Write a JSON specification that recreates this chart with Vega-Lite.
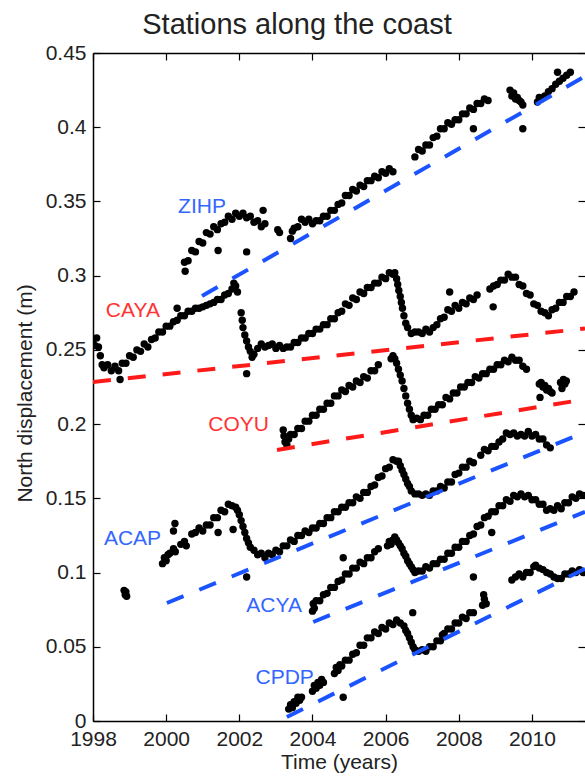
{
  "$schema": "https://vega.github.io/schema/vega-lite/v6.json",
  "autosize": {"type": "none"},
  "padding": {"left": 93, "top": 53, "right": 0, "bottom": 56},
  "width": 492,
  "height": 668,
  "background": "white",
  "title": {"text": "Stations along the coast", "font": "Liberation Sans", "fontSize": 29, "fontWeight": "normal", "color": "#222222", "anchor": "middle", "dx": -42, "dy": 39, "offset": 18, "baseline": "alphabetic"},
  "config": {
    "view": {"stroke": null},
    "axis": {"labelFont": "Liberation Sans", "labelFontSize": 21, "labelColor": "#222222", "titleFont": "Liberation Sans", "titleFontSize": 21, "titleFontWeight": "normal", "titleColor": "#222222", "domainColor": "#000000", "domainWidth": 1.5, "tickColor": "#000000", "tickWidth": 1.2, "grid": false}
  },
  "datasets": {
    "pts": [
      {"s":"ZIHP","t":2000.5,"v":0.309},{"s":"ZIHP","t":2000.52,"v":0.303},{"s":"ZIHP","t":2000.6,"v":0.310},{"s":"ZIHP","t":2000.7,"v":0.317},{"s":"ZIHP","t":2000.8,"v":0.316},{"s":"ZIHP","t":2000.9,"v":0.323},{"s":"ZIHP","t":2001.0,"v":0.322},{"s":"ZIHP","t":2001.1,"v":0.329},{"s":"ZIHP","t":2001.2,"v":0.328},{"s":"ZIHP","t":2001.3,"v":0.333},{"s":"ZIHP","t":2001.4,"v":0.331},{"s":"ZIHP","t":2001.5,"v":0.335},{"s":"ZIHP","t":2001.6,"v":0.336},{"s":"ZIHP","t":2001.7,"v":0.340},{"s":"ZIHP","t":2001.8,"v":0.338},{"s":"ZIHP","t":2001.9,"v":0.342},{"s":"ZIHP","t":2002.0,"v":0.340},{"s":"ZIHP","t":2002.1,"v":0.342},{"s":"ZIHP","t":2002.2,"v":0.339},{"s":"ZIHP","t":2002.3,"v":0.340},{"s":"ZIHP","t":2002.4,"v":0.336},{"s":"ZIHP","t":2002.5,"v":0.337},{"s":"ZIHP","t":2002.6,"v":0.333},{"s":"ZIHP","t":2002.7,"v":0.335},{"s":"ZIHP","t":2001.42,"v":0.317},{"s":"ZIHP","t":2002.2,"v":0.316},{"s":"ZIHP","t":2002.65,"v":0.344},
      {"s":"ZIHP","t":2003.05,"v":0.331},{"s":"ZIHP","t":2003.1,"v":0.329},
      {"s":"ZIHP","t":2003.4,"v":0.325},{"s":"ZIHP","t":2003.45,"v":0.330},{"s":"ZIHP","t":2003.5,"v":0.332},{"s":"ZIHP","t":2003.6,"v":0.333},{"s":"ZIHP","t":2003.7,"v":0.338},{"s":"ZIHP","t":2003.8,"v":0.336},{"s":"ZIHP","t":2003.9,"v":0.338},{"s":"ZIHP","t":2004.0,"v":0.335},{"s":"ZIHP","t":2004.1,"v":0.337},{"s":"ZIHP","t":2004.2,"v":0.337},{"s":"ZIHP","t":2004.3,"v":0.340},{"s":"ZIHP","t":2004.4,"v":0.340},{"s":"ZIHP","t":2004.5,"v":0.344},{"s":"ZIHP","t":2004.6,"v":0.344},{"s":"ZIHP","t":2004.7,"v":0.348},{"s":"ZIHP","t":2004.8,"v":0.349},{"s":"ZIHP","t":2004.9,"v":0.354},{"s":"ZIHP","t":2005.0,"v":0.354},{"s":"ZIHP","t":2005.1,"v":0.358},{"s":"ZIHP","t":2005.2,"v":0.357},{"s":"ZIHP","t":2005.3,"v":0.361},{"s":"ZIHP","t":2005.4,"v":0.360},{"s":"ZIHP","t":2005.5,"v":0.364},{"s":"ZIHP","t":2005.6,"v":0.364},{"s":"ZIHP","t":2005.7,"v":0.367},{"s":"ZIHP","t":2005.8,"v":0.366},{"s":"ZIHP","t":2005.9,"v":0.370},{"s":"ZIHP","t":2006.0,"v":0.369},{"s":"ZIHP","t":2006.1,"v":0.372},{"s":"ZIHP","t":2006.2,"v":0.370},
      {"s":"ZIHP","t":2006.8,"v":0.380},{"s":"ZIHP","t":2006.9,"v":0.385},{"s":"ZIHP","t":2007.0,"v":0.384},{"s":"ZIHP","t":2007.1,"v":0.388},{"s":"ZIHP","t":2007.2,"v":0.388},{"s":"ZIHP","t":2007.3,"v":0.393},{"s":"ZIHP","t":2007.4,"v":0.394},{"s":"ZIHP","t":2007.5,"v":0.399},{"s":"ZIHP","t":2007.6,"v":0.399},{"s":"ZIHP","t":2007.7,"v":0.403},{"s":"ZIHP","t":2007.8,"v":0.402},{"s":"ZIHP","t":2007.9,"v":0.405},{"s":"ZIHP","t":2008.0,"v":0.405},{"s":"ZIHP","t":2008.1,"v":0.409},{"s":"ZIHP","t":2008.2,"v":0.409},{"s":"ZIHP","t":2008.3,"v":0.413},{"s":"ZIHP","t":2008.4,"v":0.412},{"s":"ZIHP","t":2008.5,"v":0.416},{"s":"ZIHP","t":2008.6,"v":0.416},{"s":"ZIHP","t":2008.7,"v":0.419},{"s":"ZIHP","t":2008.8,"v":0.418},{"s":"ZIHP","t":2008.4,"v":0.399},
      {"s":"ZIHP","t":2009.4,"v":0.425},{"s":"ZIHP","t":2009.45,"v":0.421},{"s":"ZIHP","t":2009.5,"v":0.423},{"s":"ZIHP","t":2009.55,"v":0.419},{"s":"ZIHP","t":2009.6,"v":0.420},{"s":"ZIHP","t":2009.65,"v":0.418},{"s":"ZIHP","t":2009.7,"v":0.417},{"s":"ZIHP","t":2009.75,"v":0.415},{"s":"ZIHP","t":2009.75,"v":0.399},
      {"s":"ZIHP","t":2010.15,"v":0.417},{"s":"ZIHP","t":2010.2,"v":0.420},{"s":"ZIHP","t":2010.25,"v":0.419},{"s":"ZIHP","t":2010.35,"v":0.421},{"s":"ZIHP","t":2010.45,"v":0.424},{"s":"ZIHP","t":2010.55,"v":0.426},{"s":"ZIHP","t":2010.65,"v":0.429},{"s":"ZIHP","t":2010.7,"v":0.437},{"s":"ZIHP","t":2010.75,"v":0.431},{"s":"ZIHP","t":2010.85,"v":0.433},{"s":"ZIHP","t":2010.95,"v":0.435},{"s":"ZIHP","t":2011.05,"v":0.437},

      {"s":"CAYA","t":1998.0,"v":0.257},{"s":"CAYA","t":1998.05,"v":0.253},{"s":"CAYA","t":1998.1,"v":0.258},{"s":"CAYA","t":1998.15,"v":0.252},{"s":"CAYA","t":1998.2,"v":0.246},{"s":"CAYA","t":1998.25,"v":0.240},{"s":"CAYA","t":1998.3,"v":0.238},{"s":"CAYA","t":1998.4,"v":0.240},{"s":"CAYA","t":1998.5,"v":0.236},{"s":"CAYA","t":1998.6,"v":0.239},{"s":"CAYA","t":1998.7,"v":0.236},{"s":"CAYA","t":1998.74,"v":0.230},{"s":"CAYA","t":1998.8,"v":0.241},{"s":"CAYA","t":1998.9,"v":0.241},{"s":"CAYA","t":1999.0,"v":0.246},{"s":"CAYA","t":1999.1,"v":0.245},{"s":"CAYA","t":1999.2,"v":0.250},{"s":"CAYA","t":1999.3,"v":0.249},{"s":"CAYA","t":1999.4,"v":0.254},{"s":"CAYA","t":1999.5,"v":0.252},{"s":"CAYA","t":1999.6,"v":0.257},{"s":"CAYA","t":1999.7,"v":0.258},{"s":"CAYA","t":1999.8,"v":0.262},{"s":"CAYA","t":1999.9,"v":0.262},{"s":"CAYA","t":2000.0,"v":0.266},{"s":"CAYA","t":2000.1,"v":0.266},{"s":"CAYA","t":2000.2,"v":0.269},{"s":"CAYA","t":2000.3,"v":0.270},{"s":"CAYA","t":2000.3,"v":0.278},{"s":"CAYA","t":2000.4,"v":0.273},{"s":"CAYA","t":2000.5,"v":0.273},{"s":"CAYA","t":2000.6,"v":0.276},{"s":"CAYA","t":2000.7,"v":0.276},{"s":"CAYA","t":2000.8,"v":0.278},{"s":"CAYA","t":2000.9,"v":0.278},{"s":"CAYA","t":2001.0,"v":0.279},{"s":"CAYA","t":2001.1,"v":0.280},{"s":"CAYA","t":2001.2,"v":0.281},{"s":"CAYA","t":2001.3,"v":0.282},{"s":"CAYA","t":2001.4,"v":0.284},{"s":"CAYA","t":2001.5,"v":0.284},{"s":"CAYA","t":2001.6,"v":0.287},{"s":"CAYA","t":2001.7,"v":0.288},
      {"s":"CAYA","t":2001.8,"v":0.291},{"s":"CAYA","t":2001.85,"v":0.295},{"s":"CAYA","t":2001.9,"v":0.293},{"s":"CAYA","t":2001.95,"v":0.289},{"s":"CAYA","t":2002.05,"v":0.275},{"s":"CAYA","t":2002.08,"v":0.270},{"s":"CAYA","t":2002.1,"v":0.265},{"s":"CAYA","t":2002.15,"v":0.260},{"s":"CAYA","t":2002.2,"v":0.256},{"s":"CAYA","t":2002.2,"v":0.234},{"s":"CAYA","t":2002.25,"v":0.252},{"s":"CAYA","t":2002.3,"v":0.249},{"s":"CAYA","t":2002.35,"v":0.245},{"s":"CAYA","t":2002.4,"v":0.247},{"s":"CAYA","t":2002.5,"v":0.251},{"s":"CAYA","t":2002.6,"v":0.254},{"s":"CAYA","t":2002.7,"v":0.252},{"s":"CAYA","t":2002.8,"v":0.253},{"s":"CAYA","t":2002.9,"v":0.254},{"s":"CAYA","t":2003.0,"v":0.251},{"s":"CAYA","t":2003.1,"v":0.253},{"s":"CAYA","t":2003.2,"v":0.251},{"s":"CAYA","t":2003.3,"v":0.252},{"s":"CAYA","t":2003.4,"v":0.252},{"s":"CAYA","t":2003.5,"v":0.255},{"s":"CAYA","t":2003.6,"v":0.255},{"s":"CAYA","t":2003.7,"v":0.258},{"s":"CAYA","t":2003.8,"v":0.258},{"s":"CAYA","t":2003.9,"v":0.261},{"s":"CAYA","t":2004.0,"v":0.261},{"s":"CAYA","t":2004.1,"v":0.264},{"s":"CAYA","t":2004.2,"v":0.264},{"s":"CAYA","t":2004.3,"v":0.267},{"s":"CAYA","t":2004.4,"v":0.267},{"s":"CAYA","t":2004.5,"v":0.271},{"s":"CAYA","t":2004.6,"v":0.271},{"s":"CAYA","t":2004.7,"v":0.275},{"s":"CAYA","t":2004.8,"v":0.276},{"s":"CAYA","t":2004.9,"v":0.281},{"s":"CAYA","t":2005.0,"v":0.280},{"s":"CAYA","t":2005.1,"v":0.285},{"s":"CAYA","t":2005.2,"v":0.284},{"s":"CAYA","t":2005.3,"v":0.289},{"s":"CAYA","t":2005.4,"v":0.288},{"s":"CAYA","t":2005.5,"v":0.292},{"s":"CAYA","t":2005.6,"v":0.292},{"s":"CAYA","t":2005.7,"v":0.295},{"s":"CAYA","t":2005.8,"v":0.295},{"s":"CAYA","t":2005.9,"v":0.299},{"s":"CAYA","t":2006.0,"v":0.298},{"s":"CAYA","t":2006.1,"v":0.302},{"s":"CAYA","t":2006.2,"v":0.301},{"s":"CAYA","t":2006.25,"v":0.302},{"s":"CAYA","t":2006.3,"v":0.298},{"s":"CAYA","t":2006.33,"v":0.294},{"s":"CAYA","t":2006.36,"v":0.290},{"s":"CAYA","t":2006.4,"v":0.286},{"s":"CAYA","t":2006.43,"v":0.282},{"s":"CAYA","t":2006.46,"v":0.278},{"s":"CAYA","t":2006.5,"v":0.273},{"s":"CAYA","t":2006.55,"v":0.268},{"s":"CAYA","t":2006.6,"v":0.265},{"s":"CAYA","t":2006.7,"v":0.261},{"s":"CAYA","t":2006.8,"v":0.262},{"s":"CAYA","t":2006.9,"v":0.262},{"s":"CAYA","t":2007.0,"v":0.261},{"s":"CAYA","t":2007.1,"v":0.264},{"s":"CAYA","t":2007.2,"v":0.262},{"s":"CAYA","t":2007.3,"v":0.265},{"s":"CAYA","t":2007.4,"v":0.267},{"s":"CAYA","t":2007.5,"v":0.271},{"s":"CAYA","t":2007.6,"v":0.272},{"s":"CAYA","t":2007.7,"v":0.277},{"s":"CAYA","t":2007.75,"v":0.289},{"s":"CAYA","t":2007.8,"v":0.276},{"s":"CAYA","t":2007.9,"v":0.280},{"s":"CAYA","t":2008.0,"v":0.278},{"s":"CAYA","t":2008.1,"v":0.282},{"s":"CAYA","t":2008.2,"v":0.281},{"s":"CAYA","t":2008.3,"v":0.285},{"s":"CAYA","t":2008.4,"v":0.284},{"s":"CAYA","t":2008.5,"v":0.287},
      {"s":"CAYA","t":2008.85,"v":0.291},{"s":"CAYA","t":2008.95,"v":0.293},{"s":"CAYA","t":2008.94,"v":0.279},{"s":"CAYA","t":2009.05,"v":0.294},{"s":"CAYA","t":2009.15,"v":0.297},{"s":"CAYA","t":2009.25,"v":0.297},{"s":"CAYA","t":2009.35,"v":0.301},{"s":"CAYA","t":2009.45,"v":0.299},{"s":"CAYA","t":2009.55,"v":0.299},{"s":"CAYA","t":2009.65,"v":0.294},{"s":"CAYA","t":2009.75,"v":0.293},{"s":"CAYA","t":2009.85,"v":0.288},{"s":"CAYA","t":2009.95,"v":0.287},{"s":"CAYA","t":2010.05,"v":0.281},{"s":"CAYA","t":2010.15,"v":0.280},{"s":"CAYA","t":2010.25,"v":0.276},{"s":"CAYA","t":2010.35,"v":0.275},{"s":"CAYA","t":2010.45,"v":0.273},{"s":"CAYA","t":2010.55,"v":0.277},{"s":"CAYA","t":2010.65,"v":0.278},{"s":"CAYA","t":2010.75,"v":0.282},{"s":"CAYA","t":2010.85,"v":0.282},{"s":"CAYA","t":2010.95,"v":0.286},{"s":"CAYA","t":2011.05,"v":0.286},{"s":"CAYA","t":2011.15,"v":0.289},

      {"s":"COYU","t":2003.2,"v":0.196},{"s":"COYU","t":2003.22,"v":0.192},{"s":"COYU","t":2003.25,"v":0.188},{"s":"COYU","t":2003.3,"v":0.186},{"s":"COYU","t":2003.35,"v":0.190},{"s":"COYU","t":2003.4,"v":0.193},{"s":"COYU","t":2003.5,"v":0.193},{"s":"COYU","t":2003.6,"v":0.197},{"s":"COYU","t":2003.7,"v":0.197},{"s":"COYU","t":2003.8,"v":0.202},{"s":"COYU","t":2003.9,"v":0.202},{"s":"COYU","t":2004.0,"v":0.206},{"s":"COYU","t":2004.1,"v":0.206},{"s":"COYU","t":2004.2,"v":0.210},{"s":"COYU","t":2004.3,"v":0.210},{"s":"COYU","t":2004.4,"v":0.214},{"s":"COYU","t":2004.5,"v":0.214},{"s":"COYU","t":2004.6,"v":0.219},{"s":"COYU","t":2004.7,"v":0.219},{"s":"COYU","t":2004.8,"v":0.223},{"s":"COYU","t":2004.9,"v":0.222},{"s":"COYU","t":2005.0,"v":0.226},{"s":"COYU","t":2005.1,"v":0.225},{"s":"COYU","t":2005.2,"v":0.229},{"s":"COYU","t":2005.3,"v":0.228},{"s":"COYU","t":2005.4,"v":0.232},{"s":"COYU","t":2005.5,"v":0.231},{"s":"COYU","t":2005.6,"v":0.236},{"s":"COYU","t":2005.7,"v":0.236},{"s":"COYU","t":2005.8,"v":0.240},
      {"s":"COYU","t":2006.15,"v":0.244},{"s":"COYU","t":2006.2,"v":0.246},{"s":"COYU","t":2006.25,"v":0.244},{"s":"COYU","t":2006.3,"v":0.241},{"s":"COYU","t":2006.35,"v":0.237},{"s":"COYU","t":2006.4,"v":0.233},{"s":"COYU","t":2006.45,"v":0.229},{"s":"COYU","t":2006.5,"v":0.224},{"s":"COYU","t":2006.55,"v":0.219},{"s":"COYU","t":2006.6,"v":0.214},{"s":"COYU","t":2006.65,"v":0.210},{"s":"COYU","t":2006.7,"v":0.206},{"s":"COYU","t":2006.75,"v":0.203},{"s":"COYU","t":2006.85,"v":0.204},{"s":"COYU","t":2006.95,"v":0.203},{"s":"COYU","t":2007.05,"v":0.206},{"s":"COYU","t":2007.15,"v":0.206},{"s":"COYU","t":2007.25,"v":0.210},{"s":"COYU","t":2007.35,"v":0.210},{"s":"COYU","t":2007.45,"v":0.213},{"s":"COYU","t":2007.55,"v":0.213},{"s":"COYU","t":2007.65,"v":0.218},{"s":"COYU","t":2007.75,"v":0.217},{"s":"COYU","t":2007.85,"v":0.221},{"s":"COYU","t":2007.95,"v":0.221},{"s":"COYU","t":2008.05,"v":0.225},{"s":"COYU","t":2008.15,"v":0.225},{"s":"COYU","t":2008.25,"v":0.228},{"s":"COYU","t":2008.35,"v":0.228},{"s":"COYU","t":2008.45,"v":0.232},{"s":"COYU","t":2008.55,"v":0.231},{"s":"COYU","t":2008.65,"v":0.234},{"s":"COYU","t":2008.75,"v":0.234},{"s":"COYU","t":2008.85,"v":0.237},{"s":"COYU","t":2008.95,"v":0.237},{"s":"COYU","t":2009.05,"v":0.240},{"s":"COYU","t":2009.15,"v":0.240},{"s":"COYU","t":2009.25,"v":0.243},{"s":"COYU","t":2009.35,"v":0.242},{"s":"COYU","t":2009.45,"v":0.245},{"s":"COYU","t":2009.55,"v":0.243},{"s":"COYU","t":2009.65,"v":0.243},{"s":"COYU","t":2009.75,"v":0.239},{"s":"COYU","t":2009.85,"v":0.237},
      {"s":"COYU","t":2010.2,"v":0.227},{"s":"COYU","t":2010.22,"v":0.218},{"s":"COYU","t":2010.25,"v":0.228},{"s":"COYU","t":2010.3,"v":0.225},{"s":"COYU","t":2010.35,"v":0.226},{"s":"COYU","t":2010.4,"v":0.223},{"s":"COYU","t":2010.45,"v":0.224},{"s":"COYU","t":2010.5,"v":0.222},{"s":"COYU","t":2010.55,"v":0.221},{"s":"COYU","t":2010.78,"v":0.228},{"s":"COYU","t":2010.82,"v":0.224},{"s":"COYU","t":2010.86,"v":0.230},{"s":"COYU","t":2010.9,"v":0.227},{"s":"COYU","t":2010.94,"v":0.229},

      {"s":"ACAP","t":1998.85,"v":0.088},{"s":"ACAP","t":1998.88,"v":0.085},{"s":"ACAP","t":1998.9,"v":0.087},{"s":"ACAP","t":1998.92,"v":0.084},
      {"s":"ACAP","t":1999.9,"v":0.106},{"s":"ACAP","t":1999.95,"v":0.110},{"s":"ACAP","t":2000.0,"v":0.108},{"s":"ACAP","t":2000.05,"v":0.112},{"s":"ACAP","t":2000.1,"v":0.113},{"s":"ACAP","t":2000.2,"v":0.116},{"s":"ACAP","t":2000.2,"v":0.128},{"s":"ACAP","t":2000.24,"v":0.133},{"s":"ACAP","t":2000.25,"v":0.114},{"s":"ACAP","t":2000.4,"v":0.119},{"s":"ACAP","t":2000.5,"v":0.121},{"s":"ACAP","t":2000.55,"v":0.118},{"s":"ACAP","t":2000.7,"v":0.126},{"s":"ACAP","t":2000.8,"v":0.127},{"s":"ACAP","t":2000.9,"v":0.130},{"s":"ACAP","t":2001.0,"v":0.128},{"s":"ACAP","t":2001.1,"v":0.132},{"s":"ACAP","t":2001.2,"v":0.132},{"s":"ACAP","t":2001.3,"v":0.137},{"s":"ACAP","t":2001.4,"v":0.137},{"s":"ACAP","t":2001.42,"v":0.127},{"s":"ACAP","t":2001.5,"v":0.142},{"s":"ACAP","t":2001.6,"v":0.141},{"s":"ACAP","t":2001.7,"v":0.146},{"s":"ACAP","t":2001.8,"v":0.145},{"s":"ACAP","t":2001.83,"v":0.129},{"s":"ACAP","t":2001.9,"v":0.144},{"s":"ACAP","t":2001.95,"v":0.142},{"s":"ACAP","t":2002.0,"v":0.139},{"s":"ACAP","t":2002.05,"v":0.135},{"s":"ACAP","t":2002.1,"v":0.131},{"s":"ACAP","t":2002.15,"v":0.127},{"s":"ACAP","t":2002.2,"v":0.123},{"s":"ACAP","t":2002.2,"v":0.097},{"s":"ACAP","t":2002.25,"v":0.120},{"s":"ACAP","t":2002.3,"v":0.117},{"s":"ACAP","t":2002.4,"v":0.115},{"s":"ACAP","t":2002.5,"v":0.112},{"s":"ACAP","t":2002.6,"v":0.113},{"s":"ACAP","t":2002.7,"v":0.110},{"s":"ACAP","t":2002.8,"v":0.113},{"s":"ACAP","t":2002.9,"v":0.112},{"s":"ACAP","t":2003.0,"v":0.115},{"s":"ACAP","t":2003.1,"v":0.114},{"s":"ACAP","t":2003.2,"v":0.118},{"s":"ACAP","t":2003.3,"v":0.118},{"s":"ACAP","t":2003.4,"v":0.122},{"s":"ACAP","t":2003.5,"v":0.121},{"s":"ACAP","t":2003.6,"v":0.125},{"s":"ACAP","t":2003.7,"v":0.125},{"s":"ACAP","t":2003.8,"v":0.128},{"s":"ACAP","t":2003.9,"v":0.127},{"s":"ACAP","t":2004.0,"v":0.130},{"s":"ACAP","t":2004.1,"v":0.130},{"s":"ACAP","t":2004.2,"v":0.133},{"s":"ACAP","t":2004.3,"v":0.133},{"s":"ACAP","t":2004.4,"v":0.137},{"s":"ACAP","t":2004.5,"v":0.137},{"s":"ACAP","t":2004.6,"v":0.141},{"s":"ACAP","t":2004.7,"v":0.141},{"s":"ACAP","t":2004.8,"v":0.144},{"s":"ACAP","t":2004.9,"v":0.144},{"s":"ACAP","t":2005.0,"v":0.147},{"s":"ACAP","t":2005.1,"v":0.147},{"s":"ACAP","t":2005.2,"v":0.151},{"s":"ACAP","t":2005.3,"v":0.150},{"s":"ACAP","t":2005.4,"v":0.154},{"s":"ACAP","t":2005.5,"v":0.154},{"s":"ACAP","t":2005.6,"v":0.158},{"s":"ACAP","t":2005.7,"v":0.159},{"s":"ACAP","t":2005.8,"v":0.164},{"s":"ACAP","t":2005.9,"v":0.165},{"s":"ACAP","t":2006.0,"v":0.170},{"s":"ACAP","t":2006.1,"v":0.171},{"s":"ACAP","t":2006.2,"v":0.176},{"s":"ACAP","t":2006.3,"v":0.175},{"s":"ACAP","t":2006.35,"v":0.175},{"s":"ACAP","t":2006.4,"v":0.172},{"s":"ACAP","t":2006.45,"v":0.169},{"s":"ACAP","t":2006.5,"v":0.166},{"s":"ACAP","t":2006.55,"v":0.163},{"s":"ACAP","t":2006.6,"v":0.160},{"s":"ACAP","t":2006.65,"v":0.158},{"s":"ACAP","t":2006.7,"v":0.155},{"s":"ACAP","t":2006.8,"v":0.153},{"s":"ACAP","t":2006.9,"v":0.153},{"s":"ACAP","t":2007.0,"v":0.152},{"s":"ACAP","t":2007.1,"v":0.153},{"s":"ACAP","t":2007.2,"v":0.152},{"s":"ACAP","t":2007.3,"v":0.155},{"s":"ACAP","t":2007.4,"v":0.155},{"s":"ACAP","t":2007.5,"v":0.158},{"s":"ACAP","t":2007.6,"v":0.157},{"s":"ACAP","t":2007.7,"v":0.161},{"s":"ACAP","t":2007.8,"v":0.161},{"s":"ACAP","t":2007.9,"v":0.166},{"s":"ACAP","t":2008.0,"v":0.167},{"s":"ACAP","t":2008.1,"v":0.171},{"s":"ACAP","t":2008.2,"v":0.171},{"s":"ACAP","t":2008.3,"v":0.175},{"s":"ACAP","t":2008.4,"v":0.174},
      {"s":"ACAP","t":2008.6,"v":0.179},{"s":"ACAP","t":2008.7,"v":0.183},{"s":"ACAP","t":2008.8,"v":0.182},{"s":"ACAP","t":2008.9,"v":0.185},{"s":"ACAP","t":2009.0,"v":0.185},{"s":"ACAP","t":2009.1,"v":0.188},{"s":"ACAP","t":2009.2,"v":0.190},{"s":"ACAP","t":2009.3,"v":0.194},{"s":"ACAP","t":2009.4,"v":0.193},{"s":"ACAP","t":2009.5,"v":0.194},{"s":"ACAP","t":2009.6,"v":0.192},{"s":"ACAP","t":2009.7,"v":0.193},{"s":"ACAP","t":2009.8,"v":0.192},{"s":"ACAP","t":2009.9,"v":0.195},{"s":"ACAP","t":2010.0,"v":0.192},{"s":"ACAP","t":2010.1,"v":0.193},{"s":"ACAP","t":2010.2,"v":0.190},{"s":"ACAP","t":2010.3,"v":0.190},{"s":"ACAP","t":2010.4,"v":0.186},{"s":"ACAP","t":2010.5,"v":0.184},

      {"s":"ACYA","t":2004.0,"v":0.074},{"s":"ACYA","t":2004.02,"v":0.079},{"s":"ACYA","t":2004.05,"v":0.076},{"s":"ACYA","t":2004.1,"v":0.081},{"s":"ACYA","t":2004.2,"v":0.081},{"s":"ACYA","t":2004.3,"v":0.085},{"s":"ACYA","t":2004.4,"v":0.086},{"s":"ACYA","t":2004.5,"v":0.090},{"s":"ACYA","t":2004.6,"v":0.090},{"s":"ACYA","t":2004.7,"v":0.094},{"s":"ACYA","t":2004.8,"v":0.095},{"s":"ACYA","t":2004.84,"v":0.110},{"s":"ACYA","t":2004.9,"v":0.099},{"s":"ACYA","t":2005.0,"v":0.099},{"s":"ACYA","t":2005.1,"v":0.103},{"s":"ACYA","t":2005.2,"v":0.103},{"s":"ACYA","t":2005.3,"v":0.107},{"s":"ACYA","t":2005.4,"v":0.106},{"s":"ACYA","t":2005.5,"v":0.110},{"s":"ACYA","t":2005.6,"v":0.110},{"s":"ACYA","t":2005.7,"v":0.114},{"s":"ACYA","t":2005.8,"v":0.116},
      {"s":"ACYA","t":2006.05,"v":0.118},{"s":"ACYA","t":2006.1,"v":0.121},{"s":"ACYA","t":2006.15,"v":0.119},{"s":"ACYA","t":2006.2,"v":0.122},{"s":"ACYA","t":2006.25,"v":0.124},{"s":"ACYA","t":2006.3,"v":0.122},{"s":"ACYA","t":2006.35,"v":0.120},{"s":"ACYA","t":2006.4,"v":0.118},{"s":"ACYA","t":2006.45,"v":0.116},{"s":"ACYA","t":2006.5,"v":0.113},{"s":"ACYA","t":2006.55,"v":0.111},{"s":"ACYA","t":2006.6,"v":0.108},{"s":"ACYA","t":2006.65,"v":0.106},{"s":"ACYA","t":2006.7,"v":0.104},{"s":"ACYA","t":2006.75,"v":0.102},{"s":"ACYA","t":2006.8,"v":0.100},{"s":"ACYA","t":2006.9,"v":0.101},{"s":"ACYA","t":2007.0,"v":0.101},{"s":"ACYA","t":2007.1,"v":0.104},{"s":"ACYA","t":2007.2,"v":0.103},{"s":"ACYA","t":2007.3,"v":0.106},{"s":"ACYA","t":2007.4,"v":0.106},{"s":"ACYA","t":2007.5,"v":0.109},{"s":"ACYA","t":2007.6,"v":0.109},{"s":"ACYA","t":2007.7,"v":0.113},{"s":"ACYA","t":2007.8,"v":0.113},{"s":"ACYA","t":2007.9,"v":0.117},{"s":"ACYA","t":2008.0,"v":0.117},{"s":"ACYA","t":2008.1,"v":0.121},{"s":"ACYA","t":2008.2,"v":0.121},{"s":"ACYA","t":2008.3,"v":0.125},{"s":"ACYA","t":2008.4,"v":0.126},{"s":"ACYA","t":2008.4,"v":0.097},{"s":"ACYA","t":2008.5,"v":0.131},{"s":"ACYA","t":2008.6,"v":0.132},{"s":"ACYA","t":2008.7,"v":0.137},{"s":"ACYA","t":2008.8,"v":0.138},{"s":"ACYA","t":2008.9,"v":0.141},{"s":"ACYA","t":2008.9,"v":0.127},{"s":"ACYA","t":2009.0,"v":0.141},{"s":"ACYA","t":2009.1,"v":0.145},{"s":"ACYA","t":2009.2,"v":0.145},{"s":"ACYA","t":2009.3,"v":0.149},{"s":"ACYA","t":2009.4,"v":0.148},{"s":"ACYA","t":2009.5,"v":0.152},{"s":"ACYA","t":2009.6,"v":0.151},{"s":"ACYA","t":2009.7,"v":0.153},{"s":"ACYA","t":2009.8,"v":0.151},{"s":"ACYA","t":2009.9,"v":0.152},{"s":"ACYA","t":2010.0,"v":0.149},{"s":"ACYA","t":2010.1,"v":0.149},{"s":"ACYA","t":2010.2,"v":0.146},{"s":"ACYA","t":2010.3,"v":0.146},{"s":"ACYA","t":2010.4,"v":0.142},{"s":"ACYA","t":2010.5,"v":0.143},{"s":"ACYA","t":2010.6,"v":0.142},{"s":"ACYA","t":2010.7,"v":0.145},{"s":"ACYA","t":2010.8,"v":0.143},{"s":"ACYA","t":2010.9,"v":0.147},{"s":"ACYA","t":2011.0,"v":0.147},{"s":"ACYA","t":2011.1,"v":0.151},{"s":"ACYA","t":2011.2,"v":0.150},{"s":"ACYA","t":2011.3,"v":0.153},{"s":"ACYA","t":2011.4,"v":0.152},

      {"s":"CPDP","t":2003.35,"v":0.008},{"s":"CPDP","t":2003.4,"v":0.011},{"s":"CPDP","t":2003.45,"v":0.009},{"s":"CPDP","t":2003.5,"v":0.013},{"s":"CPDP","t":2003.55,"v":0.012},{"s":"CPDP","t":2003.6,"v":0.016},{"s":"CPDP","t":2003.65,"v":0.014},{"s":"CPDP","t":2003.7,"v":0.016},
      {"s":"CPDP","t":2004.0,"v":0.020},{"s":"CPDP","t":2004.05,"v":0.024},{"s":"CPDP","t":2004.1,"v":0.022},{"s":"CPDP","t":2004.15,"v":0.026},{"s":"CPDP","t":2004.2,"v":0.024},{"s":"CPDP","t":2004.25,"v":0.028},{"s":"CPDP","t":2004.3,"v":0.026},
      {"s":"CPDP","t":2004.6,"v":0.032},{"s":"CPDP","t":2004.65,"v":0.036},{"s":"CPDP","t":2004.7,"v":0.034},{"s":"CPDP","t":2004.75,"v":0.038},{"s":"CPDP","t":2004.8,"v":0.037},{"s":"CPDP","t":2004.84,"v":0.016},{"s":"CPDP","t":2004.9,"v":0.041},{"s":"CPDP","t":2005.0,"v":0.041},{"s":"CPDP","t":2005.1,"v":0.045},{"s":"CPDP","t":2005.2,"v":0.046},{"s":"CPDP","t":2005.3,"v":0.051},{"s":"CPDP","t":2005.4,"v":0.051},{"s":"CPDP","t":2005.5,"v":0.056},{"s":"CPDP","t":2005.6,"v":0.056},{"s":"CPDP","t":2005.7,"v":0.060},{"s":"CPDP","t":2005.8,"v":0.059},{"s":"CPDP","t":2005.9,"v":0.063},{"s":"CPDP","t":2006.0,"v":0.062},{"s":"CPDP","t":2006.1,"v":0.066},{"s":"CPDP","t":2006.2,"v":0.065},{"s":"CPDP","t":2006.3,"v":0.068},{"s":"CPDP","t":2006.4,"v":0.066},{"s":"CPDP","t":2006.5,"v":0.064},{"s":"CPDP","t":2006.55,"v":0.061},{"s":"CPDP","t":2006.6,"v":0.059},{"s":"CPDP","t":2006.65,"v":0.056},{"s":"CPDP","t":2006.7,"v":0.053},{"s":"CPDP","t":2006.74,"v":0.073},{"s":"CPDP","t":2006.75,"v":0.050},{"s":"CPDP","t":2006.8,"v":0.048},{"s":"CPDP","t":2006.9,"v":0.047},{"s":"CPDP","t":2007.0,"v":0.048},{"s":"CPDP","t":2007.1,"v":0.047},{"s":"CPDP","t":2007.2,"v":0.050},{"s":"CPDP","t":2007.3,"v":0.050},{"s":"CPDP","t":2007.4,"v":0.054},{"s":"CPDP","t":2007.5,"v":0.054},{"s":"CPDP","t":2007.55,"v":0.058},{"s":"CPDP","t":2007.6,"v":0.059},{"s":"CPDP","t":2007.7,"v":0.062},{"s":"CPDP","t":2007.8,"v":0.062},{"s":"CPDP","t":2007.9,"v":0.066},{"s":"CPDP","t":2008.0,"v":0.066},{"s":"CPDP","t":2008.1,"v":0.070},{"s":"CPDP","t":2008.2,"v":0.069},{"s":"CPDP","t":2008.3,"v":0.073},{"s":"CPDP","t":2008.4,"v":0.073},{"s":"CPDP","t":2008.65,"v":0.078},{"s":"CPDP","t":2008.68,"v":0.085},{"s":"CPDP","t":2008.7,"v":0.082},{"s":"CPDP","t":2008.75,"v":0.079},
      {"s":"CPDP","t":2009.45,"v":0.095},{"s":"CPDP","t":2009.55,"v":0.097},{"s":"CPDP","t":2009.65,"v":0.099},{"s":"CPDP","t":2009.75,"v":0.097},{"s":"CPDP","t":2009.85,"v":0.100},{"s":"CPDP","t":2009.95,"v":0.100},{"s":"CPDP","t":2010.05,"v":0.104},{"s":"CPDP","t":2010.1,"v":0.105},{"s":"CPDP","t":2010.2,"v":0.103},{"s":"CPDP","t":2010.3,"v":0.102},{"s":"CPDP","t":2010.4,"v":0.100},{"s":"CPDP","t":2010.5,"v":0.099},{"s":"CPDP","t":2010.6,"v":0.097},{"s":"CPDP","t":2010.7,"v":0.096},{"s":"CPDP","t":2010.8,"v":0.096},{"s":"CPDP","t":2010.9,"v":0.099},{"s":"CPDP","t":2011.0,"v":0.099},{"s":"CPDP","t":2011.1,"v":0.101},{"s":"CPDP","t":2011.2,"v":0.100},{"s":"CPDP","t":2011.3,"v":0.102},{"s":"CPDP","t":2011.4,"v":0.100}
    ],
    "trend": [
      {"s":"ZIHP","t":2000.98,"v":0.2863},{"s":"ZIHP","t":2011.45,"v":0.4343},
      {"s":"CAYA","t":1998.0,"v":0.2284},{"s":"CAYA","t":2011.45,"v":0.2644},
      {"s":"COYU","t":2003.03,"v":0.1826},{"s":"COYU","t":2011.45,"v":0.2167},
      {"s":"ACAP","t":2000.02,"v":0.0795},{"s":"ACAP","t":2011.45,"v":0.1946},
      {"s":"ACYA","t":2004.02,"v":0.0667},{"s":"ACYA","t":2011.45,"v":0.1409},
      {"s":"CPDP","t":2003.3,"v":0.0027},{"s":"CPDP","t":2011.45,"v":0.1025}
    ],
    "labels": [
      {"s":"ZIHP","t":2000.98,"v":0.346},
      {"s":"CAYA","t":1999.09,"v":0.2765},
      {"s":"COYU","t":2001.98,"v":0.1997},
      {"s":"ACAP","t":1999.08,"v":0.1223},
      {"s":"ACYA","t":2002.95,"v":0.0778},
      {"s":"CPDP","t":2003.24,"v":0.0293}
    ]
  },
  "layer": [
    {
      "data": {"name": "pts"},
      "mark": {"type": "circle", "size": 55, "color": "#000000", "opacity": 1, "clip": true},
      "encoding": {
        "x": {"field": "t", "type": "quantitative", "scale": {"domain": [1998, 2011.45], "nice": false, "zero": false},
              "axis": {"orient": "bottom", "values": [1998, 2000, 2002, 2004, 2006, 2008, 2010], "format": "d", "tickSize": -7, "labelPadding": 14, "labelFlush": false, "title": "Time (years)", "titleY": 47, "titleBaseline": "alphabetic"}},
        "y": {"field": "v", "type": "quantitative", "scale": {"domain": [0, 0.45], "nice": false, "zero": false},
              "axis": {"orient": "left", "values": [0, 0.05, 0.1, 0.15, 0.2, 0.25, 0.3, 0.35, 0.4, 0.45], "format": ".2~f", "tickSize": -7, "labelPadding": 14, "labelFlush": false, "title": "North displacement (m)", "titleX": -62, "titleY": 340, "titleBaseline": "alphabetic"}}
      }
    },
    {
      "data": {"name": "trend"},
      "mark": {"type": "line", "strokeWidth": 4, "strokeDash": [18, 17], "strokeCap": "butt", "clip": true},
      "encoding": {
        "x": {"field": "t", "type": "quantitative",
              "axis": {"orient": "top", "values": [1998, 2000, 2002, 2004, 2006, 2008, 2010], "labels": false, "tickSize": -7, "title": null, "minExtent": 0, "maxExtent": 0}},
        "y": {"field": "v", "type": "quantitative",
              "axis": {"orient": "right", "values": [0, 0.05, 0.1, 0.15, 0.2, 0.25, 0.3, 0.35, 0.4, 0.45], "labels": false, "tickSize": -7, "title": null, "domain": false, "minExtent": 0, "maxExtent": 0}},
        "color": {"field": "s", "type": "nominal", "legend": null,
                  "scale": {"domain": ["ZIHP", "CAYA", "COYU", "ACAP", "ACYA", "CPDP"], "range": ["#1a53ff", "#ff1a1a", "#ff1a1a", "#1a53ff", "#1a53ff", "#1a53ff"]}},
        "order": {"field": "t", "type": "quantitative"}
      }
    },
    {
      "data": {"name": "labels"},
      "mark": {"type": "text", "font": "Liberation Sans", "fontSize": 21, "align": "center", "baseline": "middle"},
      "encoding": {
        "x": {"field": "t", "type": "quantitative", "axis": null},
        "y": {"field": "v", "type": "quantitative", "axis": null},
        "text": {"field": "s"},
        "color": {"field": "s", "type": "nominal", "legend": null,
                  "scale": {"domain": ["ZIHP", "CAYA", "COYU", "ACAP", "ACYA", "CPDP"], "range": ["#3366ff", "#ff3333", "#ff3333", "#3366ff", "#3366ff", "#3366ff"]}}
      }
    }
  ],
  "resolve": {"axis": {"x": "independent", "y": "independent"}, "scale": {"color": "independent"}}
}
